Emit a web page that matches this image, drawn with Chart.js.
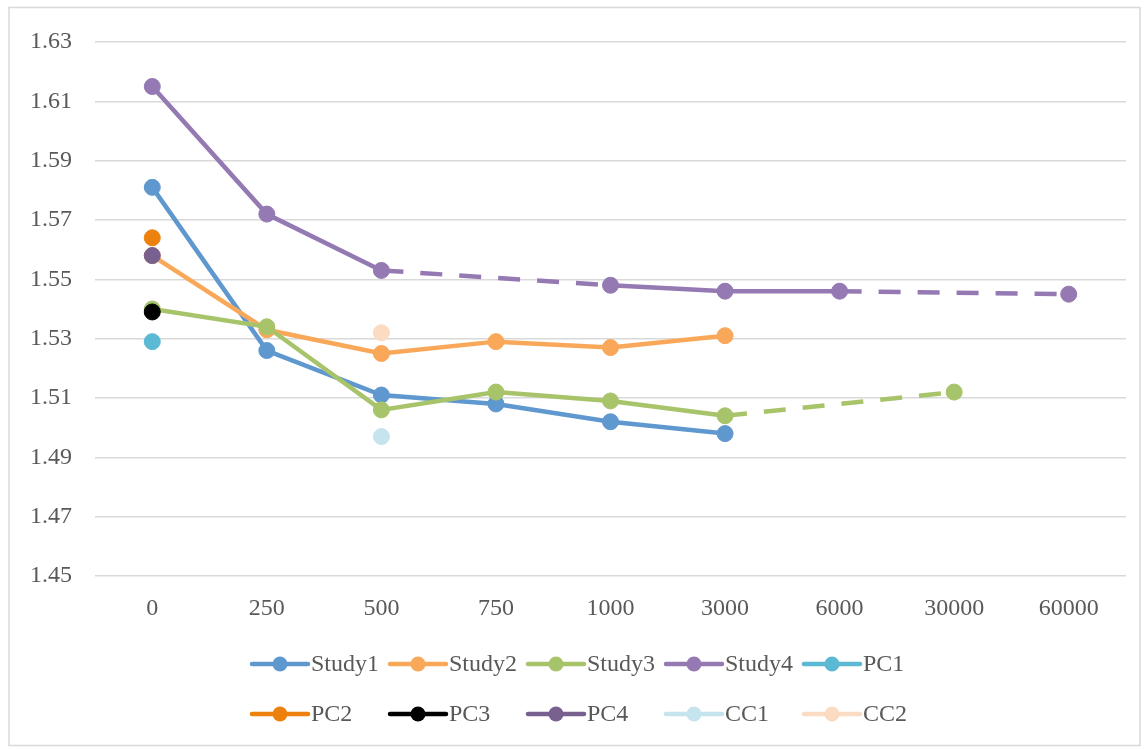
<!DOCTYPE html>
<html>
<head>
<meta charset="utf-8">
<script src="https://cdn.jsdelivr.net/npm/chart.js@4/dist/chart.umd.min.js"></script>
<style>
  html, body { margin: 0; padding: 0; background: #ffffff; }
  #wrap { position: relative; width: 1147px; height: 749px; }
  canvas { display: block; }
</style>
</head>
<body>
<div id="wrap"><canvas id="chart" width="1147" height="749"></canvas></div>
<script>
// Category labels along the x axis
const categories = ['0', '250', '500', '750', '1000', '3000', '6000', '30000', '60000'];

// Y axis range and step
const yMin = 1.45;
const yMax = 1.63;
const yStep = 0.02;

// Series values (null = no measurement at that level)
const study1 = [1.581, 1.526, 1.511, 1.508, 1.502, 1.498, null, null, null];
const study2 = [1.558, 1.533, 1.525, 1.529, 1.527, 1.531, null, null, null];
const study3 = [1.540, 1.534, 1.506, 1.512, 1.509, 1.504, null, 1.512, null];
const study4 = [1.615, 1.572, 1.553, null, 1.548, 1.546, 1.546, null, 1.545];
const pc1 = [1.529, null, null, null, null, null, null, null, null];
const pc2 = [1.564, null, null, null, null, null, null, null, null];
const pc3 = [1.539, null, null, null, null, null, null, null, null];
const pc4 = [1.558, null, null, null, null, null, null, null, null];
const cc1 = [null, null, 1.497, null, null, null, null, null, null];
const cc2 = [null, null, 1.532, null, null, null, null, null, null];

const seriesNames = ['Study1', 'Study2', 'Study3', 'Study4', 'PC1', 'PC2', 'PC3', 'PC4', 'CC1', 'CC2'];
const seriesData = [study1, study2, study3, study4, pc1, pc2, pc3, pc4, cc1, cc2];
const seriesColors = ['#5f98cf', '#f9a85a', '#a8c46a', '#9479b3', '#5bb9d3', '#ec820d', '#000000', '#78618f', '#c5e4ee', '#fbdcc2'];

const FONT = "'Liberation Serif', 'DejaVu Serif', serif";
const TEXT = '#595959';

// Segments that bridge a missing value are drawn dashed
const dashAcrossGap = ctx => (ctx.p0.skip || ctx.p1.skip) ? [22, 17] : undefined;

const datasets = seriesNames.map((name, i) => ({
  label: name,
  data: seriesData[i],
  borderColor: seriesColors[i],
  backgroundColor: seriesColors[i],
  pointBackgroundColor: seriesColors[i],
  pointBorderColor: seriesColors[i],
  borderWidth: 4.5,
  pointRadius: 8,
  pointBorderWidth: 1,
  pointHoverRadius: 8,
  spanGaps: true,
  tension: 0,
  order: seriesNames.length - i,
  segment: { borderDash: dashAcrossGap }
}));

// Outer frame around the chart
const framePlugin = {
  id: 'frame',
  beforeDraw(chart) {
    const c = chart.ctx;
    c.save();
    c.fillStyle = '#ffffff';
    c.fillRect(0, 0, chart.width, chart.height);
    c.strokeStyle = '#d9d9d9';
    c.lineWidth = 1.5;
    c.strokeRect(9, 7.5, 1131, 738);
    c.restore();
  }
};

// Two-row legend with aligned columns
const gridLegendPlugin = {
  id: 'gridLegend',
  afterDraw(chart) {
    const c = chart.ctx;
    const cols = 5, colW = 138, x0 = 252, rowY = [664, 714];
    c.save();
    c.font = '24px ' + FONT;
    c.textBaseline = 'middle';
    c.textAlign = 'left';
    chart.data.datasets.forEach((ds, i) => {
      const x = x0 + (i % cols) * colW;
      const y = rowY[Math.floor(i / cols)];
      c.strokeStyle = ds.borderColor;
      c.lineWidth = 4.5;
      c.lineCap = 'round';
      c.beginPath();
      c.moveTo(x, y);
      c.lineTo(x + 56, y);
      c.stroke();
      c.fillStyle = ds.borderColor;
      c.beginPath();
      c.arc(x + 28, y, 7.5, 0, Math.PI * 2);
      c.fill();
      c.fillStyle = TEXT;
      c.fillText(ds.label, x + 59, y + 1);
    });
    c.restore();
  }
};

new Chart(document.getElementById('chart'), {
  type: 'line',
  data: { labels: categories, datasets },
  plugins: [framePlugin, gridLegendPlugin],
  options: {
    responsive: false,
    animation: false,
    layout: { padding: { left: 9, right: 21, top: 42, bottom: 0 } },
    plugins: {
      legend: { display: false },
      tooltip: { enabled: false }
    },
    scales: {
      x: {
        offset: true,
        grid: { display: false, drawTicks: false },
        border: { display: false },
        ticks: { color: TEXT, font: { family: FONT, size: 24 }, padding: 18, maxRotation: 0, autoSkip: false },
        afterFit(scale) { scale.height = 173; }
      },
      y: {
        min: yMin,
        max: yMax,
        grid: { color: '#d9d9d9', lineWidth: 1.5, drawTicks: false },
        border: { display: false },
        ticks: {
          stepSize: yStep,
          color: TEXT,
          padding: 23,
          font: { family: FONT, size: 24 },
          callback: v => v.toFixed(2)
        },
        afterFit(scale) { scale.width = 86; }
      }
    }
  }
});
</script>
</body>
</html>
